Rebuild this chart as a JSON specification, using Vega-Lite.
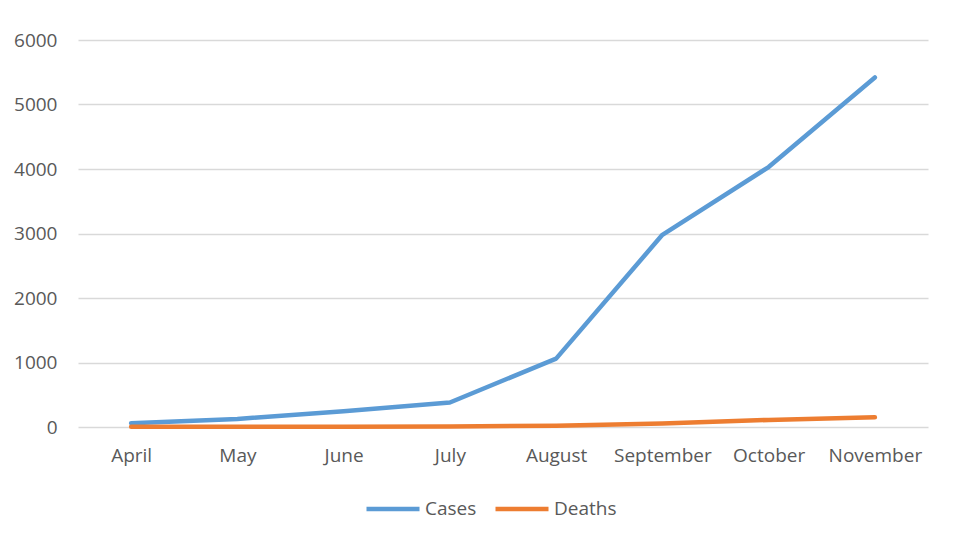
{
  "$schema": "https://vega.github.io/schema/vega-lite/v6.json",
  "width": 850,
  "height": 387,
  "autosize": {"type": "none"},
  "padding": {"left": 78, "top": 40, "right": 28, "bottom": 110},
  "background": "white",
  "data": {
    "values": [
      {"month": "April", "series": "Cases", "value": 60},
      {"month": "May", "series": "Cases", "value": 125},
      {"month": "June", "series": "Cases", "value": 245},
      {"month": "July", "series": "Cases", "value": 380},
      {"month": "August", "series": "Cases", "value": 1060},
      {"month": "September", "series": "Cases", "value": 2980},
      {"month": "October", "series": "Cases", "value": 4030},
      {"month": "November", "series": "Cases", "value": 5420},
      {"month": "April", "series": "Deaths", "value": 5},
      {"month": "May", "series": "Deaths", "value": 5},
      {"month": "June", "series": "Deaths", "value": 5},
      {"month": "July", "series": "Deaths", "value": 8},
      {"month": "August", "series": "Deaths", "value": 20},
      {"month": "September", "series": "Deaths", "value": 55},
      {"month": "October", "series": "Deaths", "value": 110},
      {"month": "November", "series": "Deaths", "value": 150}
    ]
  },
  "mark": {"type": "line", "strokeWidth": 4.5, "strokeCap": "round", "strokeJoin": "round"},
  "encoding": {
    "x": {
      "field": "month",
      "type": "ordinal",
      "sort": ["April", "May", "June", "July", "August", "September", "October", "November"],
      "scale": {"type": "point", "padding": 0.5},
      "axis": {
        "title": null,
        "labelAngle": 0,
        "ticks": false,
        "domain": false,
        "grid": false,
        "labelPadding": 19,
        "labelFont": "Open Sans",
        "labelFontSize": 19,
        "labelColor": "#595959"
      }
    },
    "y": {
      "field": "value",
      "type": "quantitative",
      "scale": {"domain": [0, 6000], "nice": false},
      "axis": {
        "title": null,
        "format": "d",
        "values": [0, 1000, 2000, 3000, 4000, 5000, 6000],
        "ticks": false,
        "domain": false,
        "grid": true,
        "gridColor": "#d9d9d9",
        "gridWidth": 1.3,
        "labelPadding": 21,
        "labelFont": "Open Sans",
        "labelFontSize": 19,
        "labelColor": "#595959"
      }
    },
    "color": {
      "field": "series",
      "type": "nominal",
      "scale": {"domain": ["Cases", "Deaths"], "range": ["#5B9BD5", "#ED7D31"]},
      "legend": {
        "title": null,
        "orient": "none",
        "legendX": 286,
        "legendY": 440,
        "direction": "horizontal",
        "symbolType": "stroke",
        "symbolSize": 2809,
        "symbolStrokeWidth": 4.5,
        "labelFont": "Open Sans",
        "labelFontSize": 19,
        "labelColor": "#595959",
        "labelOffset": 3,
        "columnPadding": 9
      }
    }
  },
  "config": {"view": {"stroke": null}}
}
